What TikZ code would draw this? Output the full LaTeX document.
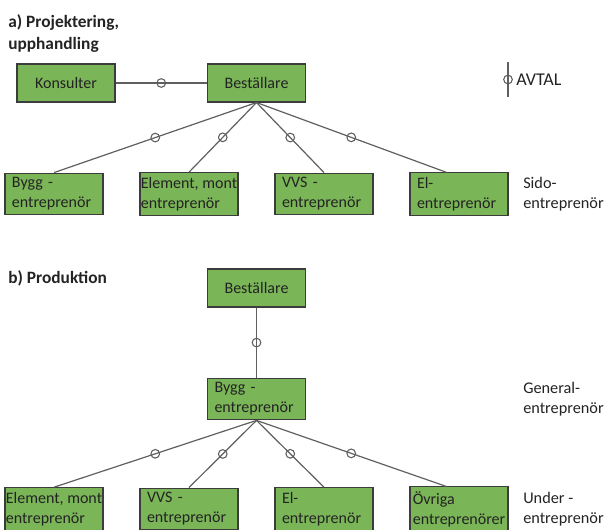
\documentclass[tikz,border=0pt]{standalone}
\usepackage{fontspec}
\setmainfont{Carlito}
\usetikzlibrary{calc}
\definecolor{boxgreen}{RGB}{122,181,87}
\definecolor{linegray}{RGB}{95,95,95}
\definecolor{framegray}{RGB}{60,60,60}
\definecolor{inkgray}{RGB}{35,35,35}

\begin{document}
\begin{tikzpicture}[x=0.75pt,y=-0.75pt,text=inkgray,
  party/.style={draw=framegray,fill=boxgreen,line width=0.8pt,minimum width=73.5pt,minimum height=28.5pt,font=\fontsize{12}{15}\selectfont},
  subparty/.style={party,align=left,text width=63pt,inner xsep=5.25pt},
  wideparty/.style={party,align=left,inner xsep=0pt},
  avtal/.style={draw=linegray,circle,inner sep=0pt,minimum size=6.5pt,line width=0.8pt},
  contract/.style={draw=linegray,line width=0.9pt},
  role/.style={align=left,inner sep=0pt,anchor=west,font=\fontsize{12.2}{15}\selectfont},
  heading/.style={align=left,inner sep=0pt,anchor=west,font=\fontsize{13}{17}\selectfont\bfseries}]
\useasboundingbox (0,0) rectangle (606,529);

% a) Projektering, upphandling
\node[heading] (headA) at (8,33.5) {a) Projektering,\\upphandling};
\node[party] (kons) at (66,83) {Konsulter};
\node[party] (bestA) at (256.5,83) {Beställare};
\node[subparty] (byggA) at (54,194) {Bygg -\\entreprenör};
\node[wideparty] (elemA) at (189,194) {Element, mont\\entreprenör};
\node[subparty] (vvsA) at (324,194) {VVS -\\entreprenör};
\node[subparty] (elA) at (459,194) {El-\\entreprenör};
\node[role] (sido) at (523,194) {Sido-\\entreprenör};

\draw[contract] (kons) -- node[avtal]{} (bestA);
\foreach \n in {byggA,elemA,vvsA}
  \draw[contract] (bestA.south) -- node[avtal]{} (\n.north);
\draw[contract] (bestA.south) -- node[avtal]{} ([xshift=-9.75pt]elA.north);

% legend
\coordinate (legTop) at (508,62);
\coordinate (legBot) at (508,97);
\draw[contract] (legTop) -- node[avtal]{} (legBot);
\node[role,font=\fontsize{13.5}{15}\selectfont] (avtalLbl) at (516,80) {AVTAL};

% b) Produktion
\node[heading] (headB) at (8,278) {b) Produktion};
\node[party] (bestB) at (256.5,288) {Beställare};
\node[subparty] (byggB) at (256.5,399) {Bygg -\\entreprenör};
\node[role] (general) at (523,399) {General-\\entreprenör};
\node[wideparty] (elemB) at (54,509) {Element, mont\\entreprenör};
\node[subparty] (vvsB) at (189,509) {VVS -\\entreprenör};
\node[subparty] (elB) at (324,509) {El-\\entreprenör};
\node[wideparty] (ovrB) at (459,509) {Övriga\\entreprenörer};
\node[role] (under) at (523,509) {Under -\\entreprenör};

\draw[contract] (bestB) -- node[avtal]{} (byggB);
\foreach \n in {elemB,vvsB,elB}
  \draw[contract] (byggB.south) -- node[avtal]{} (\n.north);
\draw[contract] (byggB.south) -- node[avtal]{} ([xshift=-9.75pt]ovrB.north);
\end{tikzpicture}
\end{document}
